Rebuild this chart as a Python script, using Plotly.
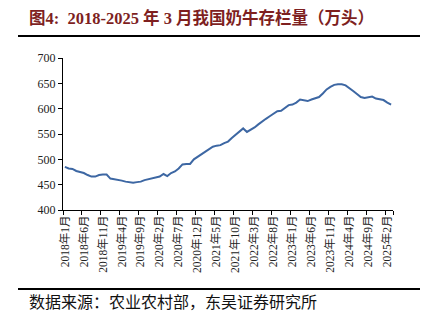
import plotly.graph_objects as go

months = [f"{y}年{m}月" for y in range(2018, 2026) for m in range(1, 13)][:87]

values = [485, 482, 481, 477, 475, 473, 469, 466, 466, 469, 470, 470,
          462, 461, 460, 458, 456, 455, 454, 455, 456, 459, 461, 462,
          464, 466, 471, 467, 473, 476, 482, 490, 491, 491, 500, 505,
          510, 515, 521, 525, 527, 528, 532, 535, 542, 548, 555, 561,
          554, 558, 563, 569, 575, 580, 585, 590, 595, 596, 601, 607,
          608, 612, 618, 616, 615, 618, 621, 623, 630, 638, 643, 647,
          648, 648, 646, 641, 635, 629, 623, 621, 622, 624, 620, 619,
          617, 612, 608]

title_text = "图4:  2018-2025 年 3 月我国奶牛存栏量（万头）"
source_text = "数据来源：农业农村部，东吴证券研究所"

idx = list(range(len(values)))
tick_idx = idx[::5]
tick_text = [months[i] for i in tick_idx]

W, H = 428, 323
L, R, T, B = 63, 35, 58, 113
pw, ph = W - L - R, H - T - B

def px(x):
    return (x - L) / pw

def py(y):
    return (H - B - y) / ph

fig = go.Figure()
fig.add_trace(go.Scatter(x=idx, y=values, mode="lines",
                         line=dict(color="#3D67A3", width=2),
                         hoverinfo="skip", showlegend=False))

font_serif = "Liberation Serif, 'Times New Roman', 'Noto Sans CJK SC', serif"

fig.update_layout(
    width=W, height=H,
    margin=dict(l=L, r=R, t=T, b=B),
    paper_bgcolor="white", plot_bgcolor="white",
    showlegend=False,
    xaxis=dict(
        range=[-0.5, len(values) - 0.5],
        tickmode="array", tickvals=tick_idx, ticktext=tick_text,
        tickangle=-90, ticks="", ticklen=0,
        showline=True, linecolor="black", linewidth=1,
        showgrid=False, zeroline=False,
        tickfont=dict(family=font_serif, size=11.5, color="#222"),
        minor=dict(tickmode="array", tickvals=[i - 0.5 for i in tick_idx] + [len(values) - 0.5],
                   ticks="outside", ticklen=4, tickcolor="black", showgrid=False),
        fixedrange=True,
    ),
    yaxis=dict(
        range=[400, 700], dtick=50, tick0=400,
        ticks="outside", ticklen=4, tickcolor="black",
        showline=True, linecolor="black", linewidth=1,
        showgrid=False, zeroline=False,
        tickfont=dict(family=font_serif, size=12, color="#222"),
        fixedrange=True,
    ),
    shapes=[
        dict(type="line", xref="paper", yref="paper", x0=px(18), x1=px(420), y0=py(36), y1=py(36),
             line=dict(color="black", width=2)),
        dict(type="line", xref="paper", yref="paper", x0=px(18), x1=px(420), y0=py(289), y1=py(289),
             line=dict(color="black", width=2)),
    ],
    annotations=[
        dict(text="<b>" + title_text + "</b>", xref="paper", yref="paper",
             x=px(27), y=py(18), xanchor="left", yanchor="middle", showarrow=False,
             font=dict(family=font_serif, size=16.5, color="#7E1F1F")),
        dict(text=source_text, xref="paper", yref="paper",
             x=px(27), y=py(301), xanchor="left", yanchor="middle", showarrow=False,
             font=dict(family="'Noto Sans CJK SC', sans-serif", size=16, color="#111")),
    ],
)

fig.write_html("out.html")
